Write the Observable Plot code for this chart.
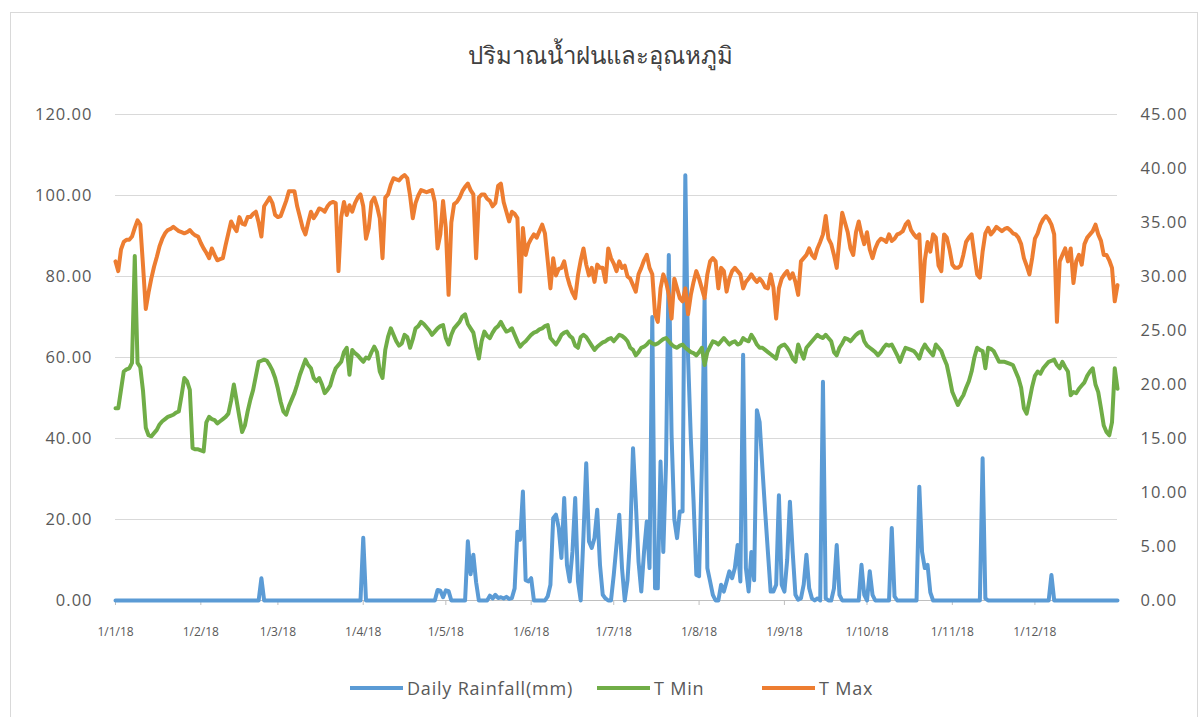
<!DOCTYPE html>
<html><head><meta charset="utf-8">
<script src="https://cdn.jsdelivr.net/npm/d3@7"></script>
<script src="https://cdn.jsdelivr.net/npm/@observablehq/plot@0.6"></script>
<style>
body{margin:0;background:#fff;font-family:"Open Sans","Noto Sans",sans-serif;}
#wrap{position:relative;width:1200px;height:717px;overflow:hidden;background:#fff;}
#frame{position:absolute;left:10px;top:12px;width:1186px;height:720px;border:1px solid #d9d9d9;}
#title{position:absolute;top:36px;left:0;width:1200px;text-align:center;font-size:24px;color:#404040;}
#chart{position:absolute;left:0;top:90px;}
#chart svg g[aria-label="y-axis tick label"] text{letter-spacing:1px;}
#legend{position:absolute;top:675px;left:0;width:1200px;height:26px;font-size:18px;color:#595959;letter-spacing:0.8px;}
#legend .it{position:absolute;top:0;display:flex;align-items:center;height:26px;}
#legend .sw{width:53px;height:4px;margin-right:4px;}
</style></head>
<body>
<div id="wrap">
<div id="frame"></div>
<div id="title">ปริมาณน้ำฝนและอุณหภูมิ</div>
<div id="chart"></div>
<div id="legend"></div>
</div>
<script>
const title = "ปริมาณน้ำฝนและอุณหภูมิ";
const seriesNames = ["Daily Rainfall(mm)", "T Min", "T Max"];
const seriesColors = ["#5b9bd5", "#70ad47", "#ed7d31"];
const leftTicks = [0, 20, 40, 60, 80, 100, 120];
const rightTicks = [0, 5, 10, 15, 20, 25, 30, 35, 40, 45];

// Daily rainfall (mm), 1 Jan 2018 .. 31 Dec 2018
const rain = [
0,0,0,0,0,0,0,0,0,0,
0,0,0,0,0,0,0,0,0,0,
0,0,0,0,0,0,0,0,0,0,
0,0,0,0,0,0,0,0,0,0,
0,0,0,0,0,0,0,0,0,0,
0,0,0,5.5,0,0,0,0,0,0,
0,0,0,0,0,0,0,0,0,0,
0,0,0,0,0,0,0,0,0,0,
0,0,0,0,0,0,0,0,0,0,
15.5,0,0,0,0,0,0,0,0,0,
0,0,0,0,0,0,0,0,0,0,
0,0,0,0,0,0,0,2.6,2.4,0.8,
2.5,2.3,0,0,0,0,0,0,14.6,6.5,
11.3,4.5,0,0,0,0,1.2,0.5,1.4,0.6,
0.8,0.5,0.9,0.4,0.6,3,17,15,26.9,5,
4.7,5.5,0,0,0,0,0,1,3.9,20.3,
21.2,18,10.5,25.3,8.8,4.7,12,25.3,4.7,0,
16,33.9,14.6,13,15.4,22.4,8.8,1.4,0.5,0,
0,6.3,13.7,21.2,8,0,5,16,37.6,24.4,
9.6,2.2,12,19.5,8,70,3,3,34.3,12,
34,85.3,41,20,15.4,22,22,105,60,40,
24.4,6.3,6,32.7,74.6,8,4.7,1.4,0,0,
3.9,2.2,4.7,7.2,5.5,8,13.7,4.7,60.7,8,
2.2,12,5,47,44,32.7,22,12,2.2,2.2,
3.9,26,3.9,2.2,10,24.4,12,1.4,0.2,0.5,
3.9,11.3,3,0.5,0,0.5,0,54,0.5,0,
0,3,13.7,1.4,0,0,0,0,0,0,
0,8.8,1.4,0,7.2,1.4,0,0,0,0,
0,0,17.9,1,0,0,0,0,0,0,
0,0,28.1,12,8,8.8,2,0,0,0,
0,0,0,0,0,0,0,0,0,0,
0,0,0,0,0,35.1,0.5,0,0,0,
0,0,0,0,0,0,0,0,0,0,
0,0,0,0,0,0,0,0,0,0,
6.3,0,0,0,0,0,0,0,0,0,
0,0,0,0,0,0,0,0,0,0,
0,0,0,0,0
];

// Daily minimum temperature (°C)
const tmin = [
17.8,17.8,19.5,21.2,21.4,21.5,22.0,31.9,22.0,21.6,
19.4,16.0,15.3,15.2,15.5,15.8,16.3,16.6,16.8,17.0,
17.1,17.2,17.4,17.5,19.0,20.6,20.3,19.5,14.1,14.0,
14.0,13.9,13.8,16.5,17.0,16.8,16.7,16.4,16.6,16.8,
17.0,17.3,18.5,20.0,18.5,17.0,15.6,16.2,17.5,18.6,
19.5,20.8,22.1,22.2,22.3,22.2,21.8,21.3,20.6,19.6,
18.4,17.5,17.2,18.0,18.6,19.2,20.0,20.9,21.6,22.3,
21.8,21.5,20.6,20.3,20.6,20.0,19.2,19.5,19.9,20.8,
21.5,21.8,22.1,23.0,23.4,20.9,23.2,22.9,22.7,22.4,
22.1,22.5,22.4,23.0,23.5,23.0,21.2,20.6,23.2,24.4,
25.2,24.6,24.0,23.6,23.8,24.6,24.4,23.4,24.2,25.2,
25.4,25.8,25.6,25.3,25.0,24.6,24.9,25.2,25.4,25.5,
24.3,23.7,24.6,25.2,25.5,25.8,26.3,26.5,25.6,25.2,
24.8,23.5,22.4,24.0,24.9,24.5,24.3,24.8,25.2,25.4,
25.8,25.3,24.9,25.0,25.2,24.6,24.0,23.5,23.8,24.0,
24.3,24.6,24.8,24.9,25.1,25.2,25.4,25.5,24.3,24.0,
23.7,24.1,24.6,24.8,24.9,24.5,24.3,23.6,23.4,24.4,
24.6,24.4,24.0,23.6,23.2,23.5,23.7,23.9,24.0,24.2,
24.3,24.0,24.3,24.6,24.5,24.3,24.0,23.4,23.2,22.7,
23.0,23.4,23.5,23.7,24.0,23.8,23.7,23.8,24.0,24.2,
24.3,24.0,23.7,23.5,23.4,23.6,23.7,23.4,23.2,23.0,
22.9,22.7,23.0,23.4,21.8,23.0,23.5,24.0,23.9,23.7,
24.0,24.3,24.0,23.7,23.9,24.0,23.7,23.8,24.3,24.1,
24.0,24.6,24.2,23.7,23.4,23.4,23.2,23.0,22.8,22.6,
22.4,23.4,23.6,23.7,23.4,23.0,22.4,22.1,23.7,23.0,
22.4,23.4,23.7,24.0,24.3,24.6,24.4,24.3,24.6,24.3,
24.0,23.0,22.7,23.4,23.8,24.3,24.2,24.0,24.3,24.6,
24.8,24.9,24.0,23.6,23.4,23.2,23.0,22.7,23.0,23.4,
23.7,23.6,23.7,23.2,22.7,22.1,22.8,23.4,23.3,23.2,
23.1,22.8,22.4,23.2,23.7,23.3,23.0,22.7,23.7,23.4,
23.1,22.4,21.8,20.6,19.3,18.7,18.1,18.6,19.0,19.7,
20.3,21.2,22.5,23.4,23.2,23.1,21.5,23.4,23.3,23.1,
22.6,22.1,22.1,22.1,22.0,21.9,21.8,21.2,20.6,19.7,
17.8,17.3,18.5,19.8,20.8,21.2,21.0,21.5,21.8,22.1,
22.2,22.3,21.8,21.5,22.1,21.6,21.2,19.0,19.3,19.2,
19.6,19.9,20.2,20.8,21.2,21.5,20.0,19.3,17.8,16.2,
15.6,15.3,16.5,21.5,19.6
];

// Daily maximum temperature (°C)
const tmax = [
31.4,30.5,32.5,33.2,33.4,33.4,33.7,34.5,35.2,34.8,
31.0,27.0,28.5,29.8,30.9,31.8,32.8,33.5,34.0,34.3,
34.4,34.6,34.4,34.2,34.1,34.0,34.1,34.3,34.0,33.8,
33.7,33.1,32.6,32.2,31.7,32.6,32.0,31.5,31.6,31.7,
32.9,34.0,35.1,34.6,34.2,35.5,34.9,34.8,35.5,35.5,
35.8,36.0,35.0,33.7,36.5,36.9,37.3,36.8,35.7,35.5,
35.6,36.3,37.0,37.9,37.9,37.9,36.5,35.5,34.5,33.9,
35.0,36.0,35.4,35.8,36.3,36.2,36.0,36.5,36.8,36.9,
36.8,30.5,35.5,36.9,35.7,36.6,36.0,36.8,37.3,37.6,
36.5,33.5,34.5,36.9,37.3,36.5,35.4,31.7,37.3,37.6,
38.5,39.1,39.0,38.9,39.2,39.4,39.1,37.5,35.4,36.8,
37.5,38.0,37.9,37.8,37.9,38.0,36.9,32.6,33.9,37.0,
34.5,28.3,35.0,36.7,36.9,37.3,37.9,38.3,38.6,38.0,
37.6,31.7,37.3,37.6,37.6,37.2,37.0,36.5,36.8,38.4,
38.6,36.9,36.0,35.1,36.0,35.8,35.4,28.6,34.5,32.0,
33.0,33.5,33.9,33.6,34.2,34.8,34.0,31.5,28.9,31.7,
30.1,30.7,30.8,31.4,30.1,29.2,28.5,28.0,30.1,31.5,
32.6,31.1,30.1,30.8,29.5,31.1,30.8,30.8,29.5,32.6,
31.7,31.2,30.5,31.4,30.8,31.0,30.0,29.8,29.2,28.6,
30.2,30.8,31.5,32.0,30.8,30.2,26.5,25.8,28.9,30.2,
29.5,28.3,26.1,29.8,28.9,28.0,27.7,28.9,26.5,28.3,
29.5,30.5,29.8,28.9,28.0,30.2,31.4,31.7,31.4,28.9,
30.8,30.5,28.6,29.8,30.5,30.8,30.5,30.2,28.9,29.5,
29.8,30.2,29.8,29.5,29.8,29.5,29.0,28.9,30.2,29.0,
26.1,28.9,29.8,30.2,30.5,29.8,30.3,29.5,28.3,31.4,
31.7,32.0,32.6,32.0,31.7,32.6,33.2,33.9,35.6,33.5,
33.0,32.0,30.8,33.5,35.9,35.0,34.1,32.6,32.0,34.1,
35.1,33.9,33.0,34.1,32.5,31.7,32.6,33.2,33.5,33.4,
33.2,33.9,33.3,33.5,33.9,34.0,34.2,34.8,35.1,34.3,
33.9,33.6,33.9,27.7,31.5,33.2,32.3,33.9,33.6,31.0,
30.5,33.9,33.6,32.5,31.1,30.8,30.8,31.0,32.0,33.2,
33.6,33.9,32.0,30.2,29.9,32.3,34.0,34.5,33.9,34.2,
34.6,34.4,34.2,34.4,34.5,34.3,34.0,33.9,33.6,33.0,
31.7,31.0,30.2,31.7,33.5,34.0,34.8,35.3,35.6,35.3,
34.8,33.9,25.8,31.4,32.0,32.6,31.4,32.6,29.4,31.4,
32.0,31.1,33.0,33.6,33.9,34.2,34.8,33.9,33.3,32.0,
32.0,31.5,30.8,27.7,29.2
];

const start = new Date(Date.UTC(2018, 0, 1));
const rows = rain.map((r, i) => ({date: d3.utcDay.offset(start, i), rain: r, tmin: tmin[i], tmax: tmax[i]}));
const k = 120 / 45; // secondary axis (°C) mapped onto primary axis scale
const monthTicks = d3.utcMonth.range(start, new Date(Date.UTC(2019, 0, 1)));
const txt = "#595959";

const chart = Plot.plot({
  width: 1200, height: 560,
  marginLeft: 115, marginRight: 83, marginTop: 24, marginBottom: 50,
  style: {fontFamily: "'Open Sans', sans-serif", background: "transparent"},
  x: {type: "utc", domain: [start, d3.utcDay.offset(start, 364)]},
  y: {domain: [0, 120]},
  marks: [
    Plot.gridY(leftTicks.filter(d => d > 0), {stroke: "#d9d9d9", strokeOpacity: 1, strokeWidth: 1}),
    Plot.ruleY([0], {stroke: "#bfbfbf", strokeWidth: 1}),
    Plot.axisY(leftTicks, {anchor: "left", tickSize: 0, tickPadding: 23, tickFormat: d => d.toFixed(2), fontSize: 16.5, fill: txt, label: null}),
    Plot.axisY(rightTicks.map(t => t * k), {anchor: "right", tickSize: 0, tickPadding: 23, tickFormat: v => (v / k).toFixed(2), fontSize: 16.5, fill: txt, label: null}),
    Plot.axisX(monthTicks, {tickSize: 5, tickPadding: 22, stroke: "#bfbfbf", tickFormat: d3.utcFormat("%-d/%-m/%y"), fontSize: 12, fill: txt, label: null}),
    Plot.lineY(rows, {x: "date", y: "rain", stroke: seriesColors[0], strokeWidth: 4, strokeLinejoin: "round"}),
    Plot.lineY(rows, {x: "date", y: d => d.tmin * k, stroke: seriesColors[1], strokeWidth: 4, strokeLinejoin: "round"}),
    Plot.lineY(rows, {x: "date", y: d => d.tmax * k, stroke: seriesColors[2], strokeWidth: 4, strokeLinejoin: "round"})
  ]
});
document.getElementById("chart").appendChild(chart);

const lg = document.getElementById("legend");
const legendLeft = [350, 597, 762];
seriesNames.forEach((n, i) => {
  const it = document.createElement("div"); it.className = "it"; it.style.left = legendLeft[i] + "px";
  const sw = document.createElement("div"); sw.className = "sw"; sw.style.background = seriesColors[i];
  const tx = document.createElement("span"); tx.textContent = n;
  it.appendChild(sw); it.appendChild(tx); lg.appendChild(it);
});
</script>
</body></html>
